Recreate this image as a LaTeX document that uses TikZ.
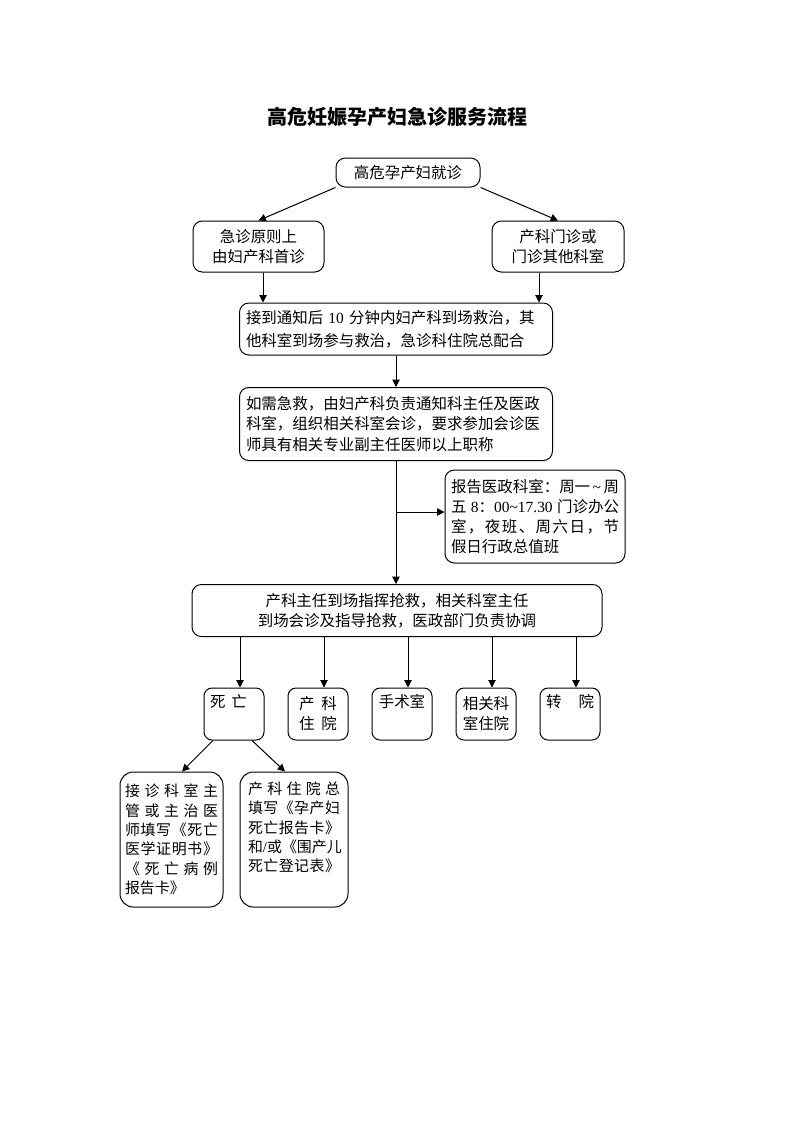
\documentclass[tikz,border=0pt]{standalone}
\usepackage{fontspec}
\setmainfont{Noto Sans CJK SC}
\newfontfamily\latf{Liberation Serif}
\newcommand\lt[1]{{\latf #1}}
\newcommand\jl[2]{\makebox[#1][s]{#2}}
\usetikzlibrary{arrows.meta,calc}
\begin{document}
\begin{tikzpicture}[x=0.75pt,y=-0.75pt,
  box/.style={draw, line width=0.75pt, rounded corners=7pt, inner sep=0pt, font=\fontsize{11.6}{15}\selectfont},
  sbox/.style={box, rounded corners=6pt, minimum width=45pt, minimum height=39pt},
  arr/.style={line width=0.75pt, -{Triangle[length=5.5pt,width=5.5pt]}}]
\useasboundingbox[fill=white] (0,0) rectangle (793,1122);

\node[font=\fontsize{15}{18}\selectfont\bfseries] (title) at (397,117) {高危妊娠孕产妇急诊服务流程};

\node[box, minimum width=108pt, minimum height=21.75pt] (b1) at (408,172.5) {高危孕产妇就诊};
\node[box, minimum width=98.25pt, minimum height=38.25pt, align=center,
      font=\fontsize{11.6}{14.5}\selectfont] (b2) at (258.5,246.5) {急诊原则上\\由妇产科首诊};
\node[box, minimum width=99pt, minimum height=38.25pt, align=center,
      font=\fontsize{11.6}{14.5}\selectfont] (b3) at (558,246.5) {产科门诊或\\门诊其他科室};

\node[box, minimum width=234.75pt, minimum height=39pt, text width=225pt, align=left,
      font=\fontsize{11.6}{17}\selectfont] (b4) at (396,329)
  {\jl{225pt}{接到通知后 \lt{10} 分钟内妇产科到场救治，其}\\他科室到场参与救治，急诊科住院总配合};

\node[box, minimum width=234.75pt, minimum height=54.75pt, text width=225pt, align=left,
      font=\fontsize{11.6}{15.5}\selectfont] (b5) at (396,424)
  {如需急救，由妇产科负责通知科主任及医政\\科室，组织相关科室会诊，要求参加会诊医\\师具有相关专业副主任医师以上职称};

\node[box, minimum width=135pt, minimum height=69.75pt, text width=126pt, align=left,
      font=\fontsize{11.6}{15}\selectfont] (rep) at (535,516.5)
  {\jl{126pt}{报告医政科室：周一\hfil\lt{\textasciitilde}\hfil 周}\\
   \jl{126pt}{五\hfil\lt{8}：\lt{00\textasciitilde17.30}\hfil 门诊办公}\\
   \jl{126pt}{室\hfill ，\hfill 夜\hfill 班\hfill 、\hfill 周\hfill 六\hfill 日\hfill ，\hfill 节}\\
   假日行政总值班};

\node[box, minimum width=307.5pt, minimum height=39pt, align=center] (b6) at (397,610.5)
  {产科主任到场指挥抢救，相关科室主任\\到场会诊及指导抢救，医政部门负责协调};

\node[sbox, text width=36pt, align=left] (s1) at (234,714) {死\hspace{4.5pt}亡\\\strut};
\node[sbox, align=center] (s2) at (318,714) {产\hspace{5pt}科\\住\hspace{5pt}院};
\node[sbox, align=center] (s3) at (402,714) {手术室\\\strut};
\node[sbox, align=center] (s4) at (486,714) {相关科\\室住院};
\node[sbox, align=center] (s5) at (570,714) {转\hspace{12.75pt}院\\\strut};

\node[box, rounded corners=10pt, minimum width=77.25pt, minimum height=101.25pt, text width=69.75pt, align=left,
      font=\fontsize{11.2}{14.5}\selectfont] (d1) at (171.5,839.5)
  {\jl{69.75pt}{接\hfill 诊\hfill 科\hfill 室\hfill 主}\\
   \jl{69.75pt}{管\hfill 或\hfill 主\hfill 治\hfill 医}\\
   \jl{69.75pt}{师\hfill 填\hfill 写\hfill 《\hfill 死\hfill 亡}\\
   \jl{69.75pt}{医\hfill 学\hfill 证\hfill 明\hfill 书\hfill 》}\\
   \jl{69.75pt}{《\hfill 死\hfill 亡\hfill 病\hfill 例}\\
   报告卡》};
\node[box, rounded corners=10pt, minimum width=81pt, minimum height=101.25pt, text width=69pt, align=left,
      font=\fontsize{11.2}{14.5}\selectfont] (d2) at (294,839.5)
  {\jl{69pt}{产\hfill 科\hfill 住\hfill 院\hfill 总}\\
   \jl{69pt}{填\hfill 写\hfill 《\hfill 孕\hfill 产\hfill 妇}\\
   \jl{69pt}{死\hfill 亡\hfill 报\hfill 告\hfill 卡\hfill 》}\\
   和\lt{/}或《围产儿\\
   \jl{69pt}{死\hfill 亡\hfill 登\hfill 记\hfill 表\hfill 》}\\
   \strut};

% connectors
\draw[arr] (b1.south west) -- (b2.north);
\draw[arr] (b1.south east) -- (b3.north);
\coordinate (p2) at ([xshift=3.4pt]b2.south);
\coordinate (p3) at ([xshift=-14.25pt]b3.south);
\draw[arr] (p2) -- (p2 |- b4.north);
\draw[arr] (p3) -- (p3 |- b4.north);
\draw[arr] (b4.south) -- (b4.south |- b5.north);
\draw[arr] (b5.south) -- (b5.south |- b6.north);
\coordinate (br) at ($(b5.south |- rep.west)+(0,-4.5)$);
\draw[arr] (br) -- (br -| rep.west);
\foreach \i in {1,...,5}{
  \coordinate (t\i) at ([xshift=4.5pt]s\i.north);
  \draw[arr] (t\i |- b6.south) -- (t\i);
}
\draw[arr] ([xshift=-15.75pt]s1.south) -- ([xshift=7.9pt]d1.north);
\draw[arr] ([xshift=13.5pt]s1.south) -- ([xshift=-6.75pt]d2.north);
\end{tikzpicture}
\end{document}
